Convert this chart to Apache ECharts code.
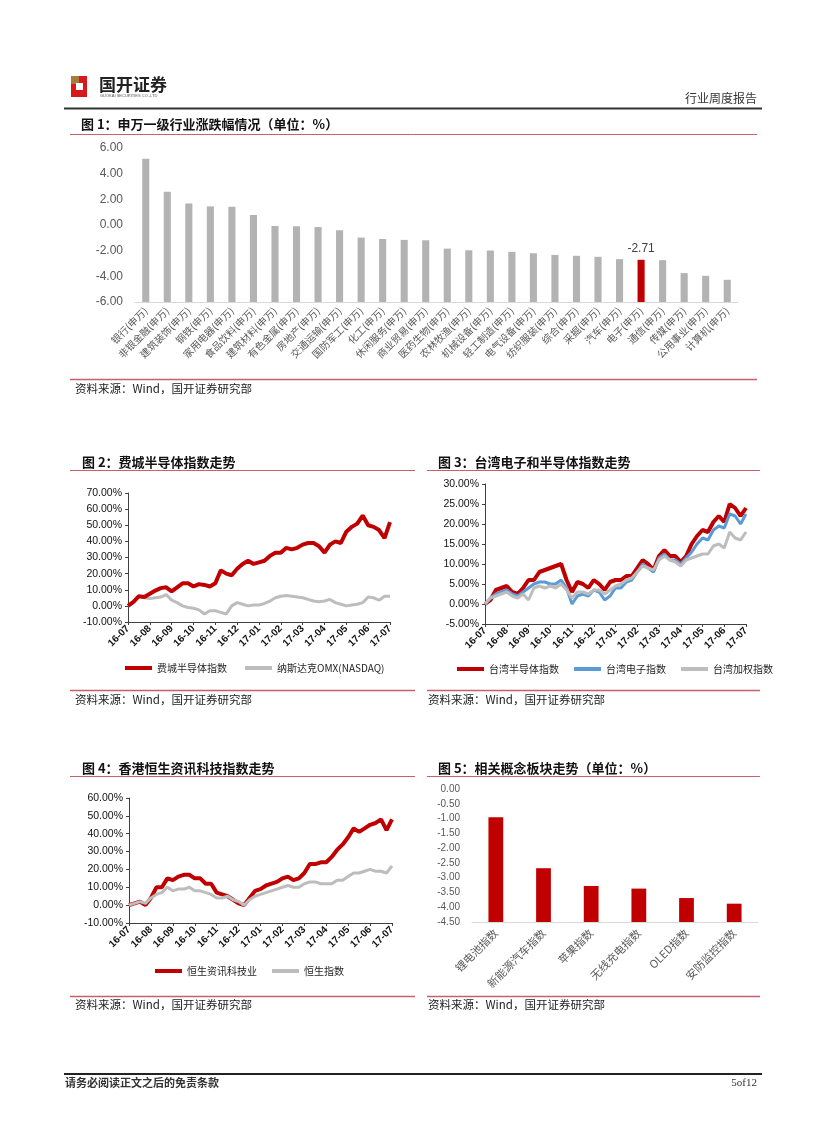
<!DOCTYPE html>
<html><head><meta charset="utf-8">
<script src="https://cdn.jsdelivr.net/npm/echarts@6/dist/echarts.min.js"></script>
<style>html,body{margin:0;padding:0;background:#fff}#c{width:827px;height:1122px}</style>
</head><body><div id="c"></div>
<script>
// ---------- Data ----------
const C1_CATS = ['银行(申万)','非银金融(申万)','建筑装饰(申万)','钢铁(申万)','家用电器(申万)','食品饮料(申万)','建筑材料(申万)','有色金属(申万)','房地产(申万)','交通运输(申万)','国防军工(申万)','化工(申万)','休闲服务(申万)','商业贸易(申万)','医药生物(申万)','农林牧渔(申万)','机械设备(申万)','轻工制造(申万)','电气设备(申万)','纺织服装(申万)','综合(申万)','采掘(申万)','汽车(申万)','电子(申万)','通信(申万)','传媒(申万)','公用事业(申万)','计算机(申万)'];
const C1_VALUES = [5.17,2.59,1.68,1.45,1.42,0.78,-0.08,-0.10,-0.16,-0.41,-0.98,-1.09,-1.16,-1.19,-1.84,-1.97,-1.99,-2.09,-2.20,-2.33,-2.40,-2.48,-2.66,-2.71,-2.74,-3.75,-3.96,-4.27];
const C1_HIGHLIGHT = '电子(申万)';
const C1_YMIN = -6, C1_YMAX = 6, C1_YSTEP = 2;

const MONTH_LABELS = ['16-07','16-08','16-09','16-10','16-11','16-12','17-01','17-02','17-03','17-04','17-05','17-06','17-07'];
const STEPS_PER_MONTH = 4; // samples read at quarter-month spacing

const C2_NAMES = ['费城半导体指数','纳斯达克OMX(NASDAQ)'];
const C2_SOX = [0,2.5,6,5.5,7.5,9.5,11,11.5,9,11.5,14,14,12,13.5,13,12,14,22,20,19,23,26,28,26,27,28,31,33,33,36,35,36,38,39,39,37,33,38,40,39,46,49,51,56,50,49,47,42,52];
const C2_NASDAQ = [0,2.5,6,5,4.5,5,5.5,7,3.5,2,0,-1,-1.5,-2.5,-5,-3,-3,-4,-5,0,2,1,0,0.5,0.5,1.5,3,5,6,6.5,6,5.5,5,4,3,2.5,3,4,2,1,0,0.5,1,2,5.5,5,3.5,6,6];

const C3_NAMES = ['台湾半导体指数','台湾电子指数','台湾加权指数'];
const C3_SEMI = [0,1,3.5,4,4.5,3,2.5,4,6,6,8,8.5,9,9.5,10,6,3,5.5,5,4,6,5,3.5,5.5,6,6,7,7,9,11,10,8.5,12,13.5,12,12,10.5,12,15,17,18.5,18,20.5,22,20.5,25,24,22,24];
const C3_ELEC = [0,1.5,2.5,3,3.5,2.5,2,3,4,5,5.5,5.5,5,5,6,4,0,2,2.5,2,3.5,3,1,2,4,4,5.5,6,8,10,9,8,11.5,12.5,11,11,10,11.5,13,15,16.5,16,18.5,19.5,19,22.5,22,20,22.5];
const C3_TAIEX = [0,1.5,2,2.5,3,2,1.5,2.5,1,4,4.5,4,4.5,4,5,3.5,1.5,3,3,2.5,3.5,3.5,2.5,3.5,4.5,5,6,6.5,8,9.5,9,8.5,11,12,11,10.5,9.5,11,11.5,12,12.5,12.5,14.5,15,14,18,16.5,16,18];

const C4_NAMES = ['恒生资讯科技业','恒生指数'];
const C4_HSIT = [0,1,2,0,4,10,10,15,14,16,17,17,15,15,12,12,7,6,5,3,1,0,4,8,9,11,12,13,15,16,14,15,18,23,23,24,24,27,31,34,38,43,41,43,45,46,48,42,48];
const C4_HSI = [0,1,2,1,4,6,7,10,8,9,9,10,8,8,7,6,4,4,5,3,2,0,3,5,6,7,8,9,10,11,10,10,12,13,13,12,12,12,14,14,16,18,18,19,20,19,19,18,22];

const C5_CATS = ['锂电池指数','新能源汽车指数','苹果指数','无线充电指数','OLED指数','安防监控指数'];
const C5_VALUES = [-0.96,-2.68,-3.28,-3.37,-3.69,-3.88];
const C5_YMIN = -4.5, C5_YMAX = 0, C5_YSTEP = 0.5;

// ---------- Styles ----------
const CJK = '"Noto Sans CJK SC", sans-serif';
const LAT = '"Liberation Sans", Arial, "Noto Sans CJK SC", sans-serif';
const RED = '#C00000', GRAY_BAR = '#B3B3B3', GRAY_LINE = '#BDBDBD', BLUE = '#5B9BD5';
const TITLE_LINE = '#C8606A';
const AX = '#404040';

const toSeries = arr => arr.map((v, i) => [i / STEPS_PER_MONTH, v]);

function barFromBase(base, ratio, colorFn, labelFn) {
  return function (params, api) {
    const idx = api.value(0), v = api.value(1);
    const top = api.coord([idx, v]);
    const bot = api.coord([idx, base]);
    const w = api.size([1, 0])[0] * ratio;
    const children = [{
      type: 'rect',
      shape: { x: top[0] - w / 2, y: Math.min(top[1], bot[1]), width: w, height: Math.abs(bot[1] - top[1]) },
      style: { fill: colorFn(idx) }
    }];
    const lab = labelFn ? labelFn(idx, v) : null;
    if (lab) children.push({
      type: 'text', x: top[0], y: top[1] - 5,
      style: { text: lab, textAlign: 'center', textVerticalAlign: 'bottom', fill: '#404040', fontSize: 12, fontFamily: LAT }
    });
    return { type: 'group', children };
  };
}

function lineXAxis(gi) {
  return {
    type: 'value', gridIndex: gi, min: 0, max: MONTH_LABELS.length - 1, interval: 1,
    axisLine: { show: true, onZero: false, lineStyle: { color: AX, width: 1 } },
    axisTick: { show: true, length: 3, lineStyle: { color: AX } },
    splitLine: { show: false },
    axisLabel: { rotate: 45, margin: 5, fontSize: 10, fontWeight: 'bold', color: '#111', fontFamily: LAT,
      formatter: v => MONTH_LABELS[Math.round(v)] || '' }
  };
}
function lineYAxis(gi, min, max, step) {
  return {
    type: 'value', gridIndex: gi, min, max, interval: step,
    axisLine: { show: true, lineStyle: { color: AX, width: 1 } },
    axisTick: { show: true, length: 3, lineStyle: { color: AX } },
    splitLine: { show: false },
    axisLabel: { fontSize: 10.5, color: '#111', fontFamily: LAT, margin: 6, formatter: v => v.toFixed(2) + '%' }
  };
}
function lineSeries(name, data, color, width, gi) {
  return {
    type: 'line', name, xAxisIndex: gi, yAxisIndex: gi, data: toSeries(data),
    showSymbol: false, symbol: 'none', animation: false,
    lineStyle: { color, width }, itemStyle: { color }
  };
}
function legendAt(names, left, top, gap) {
  return {
    data: names, left, top, padding: 0, icon: 'rect', itemWidth: 27, itemHeight: 4, itemGap: gap,
    textStyle: { fontSize: 10, color: '#222', fontFamily: CJK }, selectedMode: false
  };
}

// ---------- Page graphics ----------
const T = (text, x, y, o = {}) => ({ type: 'text', x, y, silent: true,
  style: Object.assign({ text, fill: '#111', fontSize: 12, fontFamily: CJK, textVerticalAlign: 'middle' }, o) });
const L = (x1, y1, x2, y2, color, w) => ({ type: 'line', silent: true, shape: { x1, y1, x2, y2 }, style: { stroke: color, lineWidth: w } });

const graphics = [
  // logo
  { type: 'rect', shape: { x: 71, y: 76, width: 16, height: 21 }, style: { fill: '#D7191C' } },
  { type: 'rect', shape: { x: 71, y: 76, width: 8, height: 8 }, style: { fill: '#A87C3A' } },
  { type: 'rect', shape: { x: 76, y: 83, width: 7, height: 7 }, style: { fill: '#ffffff' } },
  T('国开证券', 99, 85, { fontSize: 17, fontWeight: 'bold', fill: '#222' }),
  T('GUOKAI SECURITIES CO.,LTD', 100, 96, { fontSize: 4, fontFamily: LAT, fill: '#555' }),
  T('行业周度报告', 757, 98, { fontSize: 12, textAlign: 'right', fill: '#333' }),
  L(64, 108.5, 762, 108.5, '#333', 2),

  // chart 1 frame
  T('图 1：申万一级行业涨跌幅情况（单位：%）', 81, 124, { fontSize: 13, fontWeight: 'bold' }),
  L(70, 134.5, 757, 134.5, TITLE_LINE, 1),
  L(70, 379.5, 757, 379.5, TITLE_LINE, 1.5),
  T('资料来源：Wind，国开证券研究部', 75, 389, { fontSize: 11.5, fill: '#222' }),

  // chart 2 / 3 frames
  T('图 2：费城半导体指数走势', 82, 462, { fontSize: 13, fontWeight: 'bold' }),
  L(70, 470.5, 415, 470.5, TITLE_LINE, 1),
  T('图 3：台湾电子和半导体指数走势', 438, 462, { fontSize: 13, fontWeight: 'bold' }),
  L(427, 470.5, 760, 470.5, TITLE_LINE, 1),
  L(70, 690.5, 415, 690.5, TITLE_LINE, 1.5),
  L(427, 690.5, 760, 690.5, TITLE_LINE, 1.5),
  T('资料来源：Wind，国开证券研究部', 75, 700, { fontSize: 11.5, fill: '#222' }),
  T('资料来源：Wind，国开证券研究部', 428, 700, { fontSize: 11.5, fill: '#222' }),

  // chart 4 / 5 frames
  T('图 4：香港恒生资讯科技指数走势', 82, 768, { fontSize: 13, fontWeight: 'bold' }),
  L(70, 776.5, 415, 776.5, TITLE_LINE, 1),
  T('图 5：相关概念板块走势（单位：%）', 438, 768, { fontSize: 13, fontWeight: 'bold' }),
  L(427, 776.5, 760, 776.5, TITLE_LINE, 1),
  L(70, 996.5, 415, 996.5, TITLE_LINE, 1.5),
  L(427, 996.5, 760, 996.5, TITLE_LINE, 1.5),
  T('资料来源：Wind，国开证券研究部', 75, 1005, { fontSize: 11.5, fill: '#222' }),
  T('资料来源：Wind，国开证券研究部', 428, 1005, { fontSize: 11.5, fill: '#222' }),

  // footer
  L(64, 1074, 762, 1074, '#222', 2),
  T('请务必阅读正文之后的免责条款', 65, 1083, { fontSize: 11, fontWeight: 'bold', fill: '#333' }),
  T('5of12', 757, 1083, { fontSize: 11, textAlign: 'right', fontFamily: '"Liberation Serif", serif', fill: '#333' })
];

// ---------- Chart ----------
const chart = echarts.init(document.getElementById('c'), null, { renderer: 'canvas' });
chart.setOption({
  animation: false,
  backgroundColor: '#fff',
  grid: [
    { left: 135, top: 148, width: 603, height: 154, outerBoundsMode: 'none' },
    { left: 128, top: 493, width: 262, height: 129, outerBoundsMode: 'none' },
    { left: 485, top: 484, width: 261, height: 140, outerBoundsMode: 'none' },
    { left: 129, top: 798, width: 263, height: 125, outerBoundsMode: 'none' },
    { left: 472, top: 789, width: 286, height: 133, outerBoundsMode: 'none' }
  ],
  xAxis: [
    { type: 'category', gridIndex: 0, data: C1_CATS,
      axisLine: { show: true, onZero: false, lineStyle: { color: '#D9D9D9' } }, axisTick: { show: false },
      axisLabel: { interval: 0, rotate: 45, margin: 7, fontSize: 10, color: '#595959', fontFamily: CJK } },
    lineXAxis(1), lineXAxis(2), lineXAxis(3),
    { type: 'category', gridIndex: 4, data: C5_CATS,
      axisLine: { show: true, onZero: false, lineStyle: { color: '#D9D9D9' } }, axisTick: { show: false },
      axisLabel: { interval: 0, rotate: 45, margin: 9, fontSize: 11, color: '#595959', fontFamily: CJK } }
  ],
  yAxis: [
    { type: 'value', gridIndex: 0, min: C1_YMIN, max: C1_YMAX, interval: C1_YSTEP,
      axisLine: { show: false }, axisTick: { show: false }, splitLine: { show: false },
      axisLabel: { margin: 12, fontSize: 12, color: '#595959', fontFamily: LAT, formatter: v => v.toFixed(2) } },
    lineYAxis(1, -10, 70, 10),
    lineYAxis(2, -5, 30, 5),
    lineYAxis(3, -10, 60, 10),
    { type: 'value', gridIndex: 4, min: C5_YMIN, max: C5_YMAX, interval: C5_YSTEP,
      axisLine: { show: false }, axisTick: { show: false }, splitLine: { show: false },
      axisLabel: { margin: 12, fontSize: 10, color: '#595959', fontFamily: LAT, formatter: v => v.toFixed(2) } }
  ],
  legend: [
    legendAt(C2_NAMES, 125, 663, 18),
    legendAt(C3_NAMES, 457, 664, 15),
    legendAt(C4_NAMES, 155, 966, 15)
  ],
  series: [
    { type: 'custom', xAxisIndex: 0, yAxisIndex: 0, encode: { x: 0, y: 1 },
      data: C1_VALUES.map((v, i) => [i, v]),
      renderItem: barFromBase(C1_YMIN, 0.33,
        i => C1_CATS[i] === C1_HIGHLIGHT ? RED : GRAY_BAR,
        (i, v) => C1_CATS[i] === C1_HIGHLIGHT ? v.toFixed(2) : null) },
    lineSeries(C2_NAMES[1], C2_NASDAQ, GRAY_LINE, 3, 1),
    lineSeries(C2_NAMES[0], C2_SOX, RED, 4, 1),
    lineSeries(C3_NAMES[0], C3_SEMI, RED, 4, 2),
    lineSeries(C3_NAMES[1], C3_ELEC, BLUE, 3, 2),
    lineSeries(C3_NAMES[2], C3_TAIEX, GRAY_LINE, 3, 2),
    lineSeries(C4_NAMES[0], C4_HSIT, RED, 4, 3),
    lineSeries(C4_NAMES[1], C4_HSI, GRAY_LINE, 3, 3),
    { type: 'custom', xAxisIndex: 4, yAxisIndex: 4, encode: { x: 0, y: 1 },
      data: C5_VALUES.map((v, i) => [i, v]),
      renderItem: barFromBase(C5_YMIN, 0.31, () => RED, null) }
  ],
  graphic: graphics
});
</script>
</body></html>
